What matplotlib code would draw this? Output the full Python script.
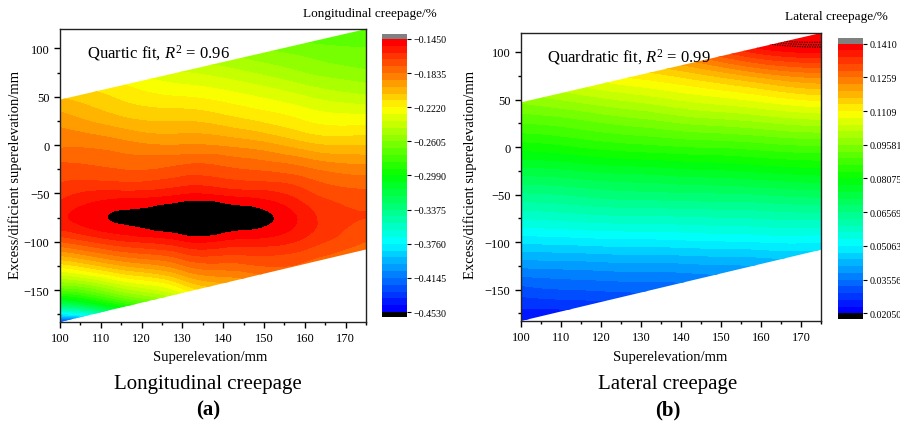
import numpy as np
import matplotlib
matplotlib.use('Agg')
import matplotlib.pyplot as plt
import matplotlib.tri as mtri
from matplotlib import cm
from matplotlib.colors import LinearSegmentedColormap, ListedColormap, BoundaryNorm
from matplotlib.patches import Polygon

plt.rcParams['font.family'] = ['Liberation Serif', 'DejaVu Serif']
plt.rcParams['mathtext.fontset'] = 'custom'
plt.rcParams['mathtext.rm'] = 'Liberation Serif'
plt.rcParams['mathtext.it'] = 'Liberation Serif:italic'

# grid (superelevation x excess/deficient superelevation)
super_mm = [100, 115, 130, 145, 160, 175]
excess_mm = [-200, -175, -150, -125, -100, -75, -50, -25, 0, 25, 50, 75, 100, 125]

# longitudinal creepage, one list per superelevation column (bottom -> top)
long_creep = [
    [-0.576, -0.379, -0.274, -0.219, -0.176, -0.154, -0.164, -0.173, -0.185, -0.194, -0.207, -0.219, -0.234, -0.253],
    [-0.515, -0.336, -0.250, -0.200, -0.162, -0.1437, -0.158, -0.176, -0.188, -0.204, -0.216, -0.228, -0.244, -0.262],
    [-0.453, -0.299, -0.225, -0.185, -0.154, -0.136, -0.154, -0.173, -0.191, -0.207, -0.222, -0.237, -0.253, -0.268],
    [-0.407, -0.274, -0.207, -0.178, -0.156, -0.1405, -0.157, -0.176, -0.194, -0.213, -0.228, -0.244, -0.259, -0.274],
    [-0.376, -0.256, -0.197, -0.178, -0.163, -0.156, -0.166, -0.182, -0.204, -0.222, -0.237, -0.253, -0.265, -0.281],
    [-0.361, -0.250, -0.197, -0.185, -0.176, -0.168, -0.174, -0.188, -0.207, -0.225, -0.244, -0.259, -0.268, -0.277],
]

# lateral creepage
lat_creep = [
    [0.0181, 0.0253, 0.0313, 0.0392, 0.0482, 0.0567, 0.0651, 0.0735, 0.0820, 0.0898, 0.0970, 0.1049, 0.1121, 0.1193],
    [0.0181, 0.0253, 0.0326, 0.0398, 0.0488, 0.0579, 0.0663, 0.0747, 0.0838, 0.0916, 0.1000, 0.1085, 0.1169, 0.1253],
    [0.0181, 0.0259, 0.0332, 0.0404, 0.0494, 0.0585, 0.0675, 0.0759, 0.0856, 0.0940, 0.1030, 0.1121, 0.1217, 0.1314],
    [0.0181, 0.0259, 0.0338, 0.0410, 0.0500, 0.0591, 0.0681, 0.0771, 0.0868, 0.0964, 0.1061, 0.1160, 0.1290, 0.1400],
    [0.0181, 0.0265, 0.0344, 0.0416, 0.0506, 0.0597, 0.0687, 0.0783, 0.0880, 0.0982, 0.1088, 0.1210, 0.1360, 0.1480],
    [0.0181, 0.0265, 0.0350, 0.0422, 0.0506, 0.0603, 0.0699, 0.0795, 0.0892, 0.1000, 0.1115, 0.1240, 0.1385, 0.1500],
]

# tested region (parallelogram)
region_x = [100, 175, 175, 100]
region_y = [47, 120, -108, -183]

long_ticks = [-0.4530, -0.4145, -0.3760, -0.3375, -0.2990, -0.2605, -0.2220, -0.1835, -0.1450]
long_labels = ['\u22120.4530', '\u22120.4145', '\u22120.3760', '\u22120.3375', '\u22120.2990',
               '\u22120.2605', '\u22120.2220', '\u22120.1835', '\u22120.1450']
lat_ticks = [0.02050, 0.03556, 0.05063, 0.06569, 0.08075, 0.09581, 0.1109, 0.1259, 0.1410]
lat_labels = ['0.02050', '0.03556', '0.05063', '0.06569', '0.08075', '0.09581', '0.1109', '0.1259', '0.1410']
# contour lines Origin left in the over-range corner of (b)
lat_over_lines = [0.1412, 0.1424, 0.1436]

rainbow = LinearSegmentedColormap.from_list('origin_rainbow', [
    (0.0, '#0000ff'), (0.125, '#0080ff'), (0.25, '#00ffff'), (0.5, '#00ff00'),
    (0.75, '#ffff00'), (0.875, '#ff8000'), (1.0, '#ff0000')])
n_bands = 40
band_colors = rainbow(np.linspace(0, 1, n_bands))


def draw_panel(fig, ax, cax, data, ticks, labels, over_color, note, ext, over_lines=None):
    X, Y = np.meshgrid(super_mm, excess_mm)
    Z = np.array(data).T
    levels = np.linspace(ticks[0], ticks[-1], n_bands + 1)
    norm = BoundaryNorm(levels, n_bands)

    cmap_plot = ListedColormap(band_colors)
    cmap_plot.set_over(over_color)
    cmap_plot.set_under('black')

    tri = mtri.Triangulation(X.ravel(), Y.ravel())
    refiner = mtri.UniformTriRefiner(tri)
    tri_f, z_f = refiner.refine_field(Z.ravel(), subdiv=4)
    cs = ax.tricontourf(tri_f, z_f, levels=levels, cmap=cmap_plot, norm=norm, extend='both')

    poly = Polygon(np.column_stack([region_x, region_y]), closed=True,
                   transform=ax.transData, facecolor='none', edgecolor='none')
    ax.add_patch(poly)
    cs.set_clip_path(poly)
    if over_lines:
        cl = ax.tricontour(tri_f, z_f, levels=over_lines, colors='#111111',
                           linewidths=0.9, linestyles=[(0, (1, 1))])
        cl.set_clip_path(poly)

    ax.set_xlim(100, 175)
    ax.set_ylim(-183, 120)
    ax.set_xticks(np.arange(100, 171, 10))
    ax.set_xticks(np.arange(100, 176, 5), minor=True)
    ax.set_yticks(np.arange(-150, 101, 50))
    ax.set_yticks(np.arange(-175, 121, 25), minor=True)
    ax.tick_params(which='major', length=4, width=1, labelsize=9, direction='out')
    ax.tick_params(which='minor', length=2.5, width=1, direction='out')
    for s in ax.spines.values():
        s.set_linewidth(1.0)
        s.set_color('#222222')
    ax.text(106.5, 96, note, fontsize=12, va='center', ha='left')

    cmap_bar = ListedColormap(band_colors)
    cmap_bar.set_over('#808080')
    cmap_bar.set_under('black')
    sm = cm.ScalarMappable(norm=norm, cmap=cmap_bar)
    cb = fig.colorbar(sm, cax=cax, extend='both', extendrect=True, extendfrac=ext)
    cb.set_ticks(ticks)
    cb.set_ticklabels(labels)
    cb.minorticks_off()
    cb.outline.set_visible(False)
    cax.tick_params(labelsize=7.2, length=3, width=0.8, direction='out', pad=2)


fig = plt.figure(figsize=(9, 4.27), dpi=100)
ax1 = fig.add_axes([0.0667, 0.2436, 0.340, 0.686])
cax1 = fig.add_axes([0.4239, 0.2553, 0.0278, 0.6628])
ax2 = fig.add_axes([0.5789, 0.2459, 0.3333, 0.6745])
cax2 = fig.add_axes([0.9311, 0.2506, 0.0278, 0.6581])

draw_panel(fig, ax1, cax1, long_creep, long_ticks, long_labels, 'black',
           'Quartic fit, $R^2$ = 0.96', 0.018)
draw_panel(fig, ax2, cax2, lat_creep, lat_ticks, lat_labels, '#ff0000',
           'Quardratic fit, $R^2$ = 0.99', 0.021, lat_over_lines)

H = 427.0
def fy(py):
    return 1 - py / H

fig.text(370 / 900, fy(14), 'Longitudinal creepage/%', fontsize=9.5, ha='center', va='center')
fig.text(836 / 900, fy(17), 'Lateral creepage/%', fontsize=9.5, ha='center', va='center')

fig.text(210 / 900, fy(357), 'Superelevation/mm', fontsize=10.5, ha='center', va='center')
fig.text(670 / 900, fy(357), 'Superelevation/mm', fontsize=10.5, ha='center', va='center')
fig.text(15 / 900, fy(175), 'Excess/dificient superelevation/mm', fontsize=10.5,
         ha='center', va='center', rotation=90)
fig.text(470 / 900, fy(175), 'Excess/dificient superelevation/mm', fontsize=10.5,
         ha='center', va='center', rotation=90)

fig.text(208 / 900, fy(385), 'Longitudinal creepage', fontsize=15, ha='center', va='center')
fig.text(208 / 900, fy(410), '(a)', fontsize=15, fontweight='bold', ha='center', va='center')
fig.text(668 / 900, fy(385), 'Lateral creepage', fontsize=15, ha='center', va='center')
fig.text(668 / 900, fy(410), '(b)', fontsize=15, fontweight='bold', ha='center', va='center')

fig.savefig('out.png', dpi=100)
